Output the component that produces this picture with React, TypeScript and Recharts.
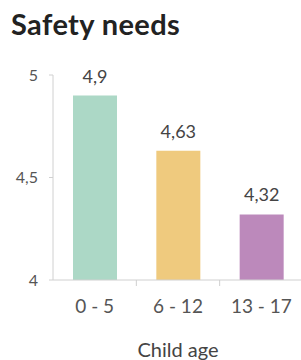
import React from 'react';
import { BarChart, Bar, XAxis, YAxis, Cell, LabelList } from 'recharts';

const categories = ['0 - 5', '6 - 12', '13 - 17'];
const values = [4.9, 4.63, 4.32];
const colors = ['#acd8c6', '#efca7e', '#bc89bb'];
const yTicks = [4, 4.5, 5];

const data = categories.map((c, i) => ({ age: c, value: values[i] }));

const fmt = (v: number) => String(v).replace('.', ',');

const FONT = 'Lato, "Open Sans", sans-serif';

const XTick = (props: any) => {
  const { x, y, payload, index } = props;
  const off = payload && payload.offset ? payload.offset : 0;
  return (
    <g>
      {index < categories.length - 1 && (
        <line x1={x + off} x2={x + off} y1={y} y2={y + 6} stroke="#cfcfcf" strokeWidth={1} />
      )}
      <text x={x} y={y + 33} textAnchor="middle" fontSize={19} fill="#555" fontFamily={FONT}>
        {payload.value}
      </text>
    </g>
  );
};

export default function App() {
  return (
    <div style={{ position: 'absolute', left: 0, top: 0, width: 301, height: 360, overflow: 'hidden', background: '#fff' }}>
      <div
        style={{
          position: 'absolute',
          left: 11,
          top: 9,
          fontFamily: FONT,
          fontWeight: 700,
          fontSize: 29,
          letterSpacing: 0.4,
          color: '#222',
          lineHeight: '29px',
          whiteSpace: 'nowrap',
        }}
      >
        Safety needs
      </div>
      <BarChart
        width={303}
        height={360}
        data={data}
        margin={{ top: 75, right: 0, left: 0, bottom: 0 }}
        style={{ position: 'absolute', left: 0, top: 0 }}
      >
        <YAxis
          width={53}
          domain={[4, 5]}
          ticks={yTicks}
          tickFormatter={fmt}
          tickSize={4}
          tickMargin={11}
          axisLine={{ stroke: '#d0d0d0' }}
          tickLine={{ stroke: '#d0d0d0' }}
          tick={{ fontSize: 16, fill: '#555', fontFamily: FONT }}
          allowDataOverflow
        />
        <XAxis
          dataKey="age"
          height={80}
          tickSize={0}
          tickMargin={0}
          tickLine={false}
          axisLine={{ stroke: '#d0d0d0' }}
          tick={<XTick />}
          interval={0}
          label={{ value: 'Child age', position: 'insideBottom', offset: 3, fontSize: 20, fill: '#444', fontFamily: FONT }}
        />
        <Bar dataKey="value" barSize={44} isAnimationActive={false}>
          {data.map((d, i) => (
            <Cell key={d.age} fill={colors[i]} />
          ))}
          <LabelList
            dataKey="value"
            position="top"
            offset={13}
            formatter={(v: any) => fmt(v)}
            style={{ fontSize: 18, fill: '#444', fontFamily: FONT }}
          />
        </Bar>
      </BarChart>
    </div>
  );
}
